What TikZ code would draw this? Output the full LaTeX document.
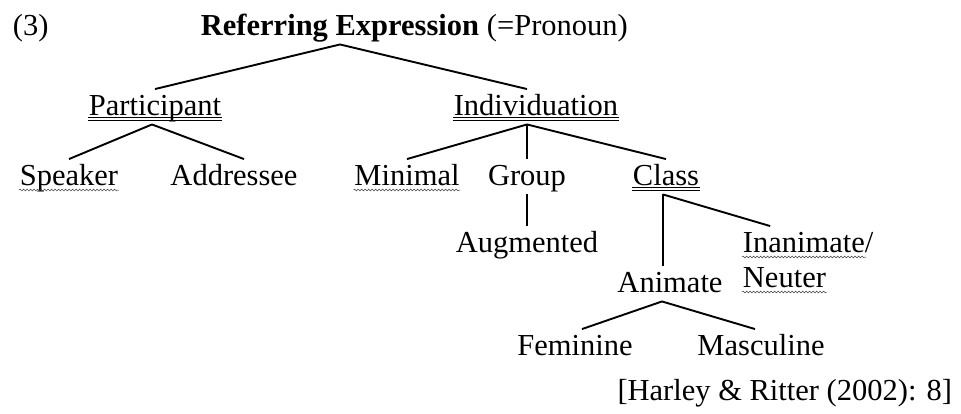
\documentclass[tikz,border=0pt]{standalone}
\usepackage{fontspec}
\setmainfont{Liberation Serif}
\usetikzlibrary{decorations.pathmorphing}

\begin{document}
\begin{tikzpicture}[
  x = 1pt,
  y = -1pt,
  word/.style = {
    anchor = base,
    inner xsep = 0pt,
    inner ysep = 4pt,
    text height = 21pt,
    text depth = 4.5pt,
    font = \fontsize{30.5}{35}\selectfont
  },
  dbl/.style = {
    line width = 0.9pt
  },
  squiggle/.style = {
    draw = black!75,
    line width = 0.5pt,
    decorate,
    decoration = {snake, amplitude = 0.9pt, segment length = 3.5pt}
  },
  every path/.style = {
    line width = 1.9pt
  }
]
  \useasboundingbox (0, 0) rectangle (961, 413);

  \node[word, anchor = base west] (num) at (12, 35) {(3)};
  \node[word] (root) at (340, 35) {\textbf{Referring Expression}};
  \node[word, anchor = base west] (pron) at (486, 35) {(=Pronoun)};

  \node[word] (part) at (155, 115) {Participant};
  \node[word] (indiv) at (536, 115) {Individuation};

  \node[word] (spk) at (69, 185) {Speaker};
  \node[word] (addr) at (234, 185) {Addressee};
  \node[word] (mini) at (407, 185) {Minimal};
  \node[word] (group) at (527, 185) {Group};
  \node[word] (class) at (666, 185) {Class};

  \node[word] (aug) at (527, 252) {Augmented};
  \node[word, anchor = base west] (inan) at (742, 252) {Inanimate/};
  \node[word, anchor = base west] (neut) at (742, 287) {Neuter};
  \node[word] (anim) at (670, 292) {Animate};

  \node[word] (fem) at (575, 355) {Feminine};
  \node[word] (masc) at (761, 355) {Masculine};

  \node[word, anchor = base east] (cite) at (953, 400) {[Harley \& Ritter (2002): 8]};

  \draw (root.south) -- (part.north);
  \draw (root.south) -- ([xshift = -9pt]indiv.north);
  \draw ([xshift = -3pt]part.south) -- (spk.north);
  \draw ([xshift = -3pt]part.south) -- ([xshift = 10pt]addr.north);
  \draw ([xshift = -9pt]indiv.south) -- (mini.north);
  \draw ([xshift = -9pt]indiv.south) -- (group.north);
  \draw ([xshift = -9pt]indiv.south) -- (class.north);
  \draw (group.south) -- (aug.north);
  \draw ([xshift = -3pt]class.south) -- ([xshift = -38pt]inan.north);
  \draw ([xshift = -3pt]class.south) -- ([xshift = -3pt]class.south |- anim.north);
  \draw ([xshift = -8pt]anim.south) -- ([xshift = 7pt]fem.north);
  \draw ([xshift = -8pt]anim.south) -- ([xshift = -6pt]masc.north);

  \foreach \n in {part, indiv, class} {
    \draw[dbl] ([yshift = -2.5pt]\n.base west) -- ([yshift = -2.5pt]\n.base east);
    \draw[dbl] ([yshift = -5pt]\n.base west) -- ([yshift = -5pt]\n.base east);
  }
  \foreach \n in {spk, mini, neut}
    \draw[squiggle] ([yshift = -5pt]\n.base west) -- ([yshift = -5pt]\n.base east);
  \draw[squiggle] ([yshift = -5pt]inan.base west) -- ([xshift = -8pt, yshift = -5pt]inan.base east);
\end{tikzpicture}
\end{document}
